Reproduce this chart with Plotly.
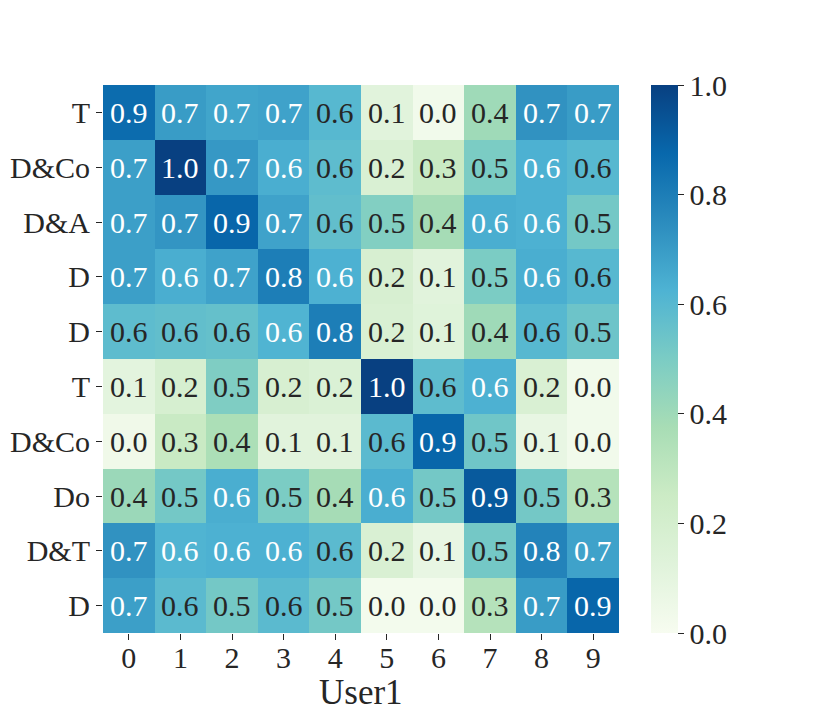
import plotly.graph_objects as go

# rows top -> bottom, columns 0..9
row_labels = ['T', 'D&Co', 'D&A', 'D', 'D', 'T', 'D&Co', 'Do', 'D&T', 'D']
col_labels = ['0', '1', '2', '3', '4', '5', '6', '7', '8', '9']

values = [
    [0.86, 0.70, 0.67, 0.68, 0.60, 0.12, 0.03, 0.40, 0.73, 0.70],
    [0.69, 1.00, 0.71, 0.64, 0.58, 0.17, 0.26, 0.50, 0.63, 0.60],
    [0.69, 0.72, 0.88, 0.68, 0.57, 0.48, 0.38, 0.64, 0.63, 0.52],
    [0.69, 0.64, 0.68, 0.80, 0.63, 0.18, 0.12, 0.50, 0.64, 0.60],
    [0.58, 0.57, 0.56, 0.62, 0.80, 0.17, 0.13, 0.40, 0.60, 0.54],
    [0.11, 0.19, 0.49, 0.18, 0.16, 1.00, 0.58, 0.63, 0.17, 0.03],
    [0.04, 0.26, 0.36, 0.12, 0.12, 0.59, 0.88, 0.53, 0.08, 0.03],
    [0.41, 0.52, 0.64, 0.50, 0.38, 0.64, 0.52, 0.92, 0.52, 0.33],
    [0.73, 0.62, 0.63, 0.63, 0.59, 0.17, 0.08, 0.52, 0.78, 0.68],
    [0.69, 0.59, 0.52, 0.59, 0.52, 0.02, 0.02, 0.33, 0.70, 0.88],
]

gnbu = ['#f7fcf0', '#e0f3db', '#ccebc5', '#a8ddb5', '#7bccc4',
        '#4eb3d3', '#2b8cbe', '#0868ac', '#084081']
scale = [[i / 8, c] for i, c in enumerate(gnbu)]

FONT = 'Liberation Serif'

fig = go.Figure()
fig.add_trace(go.Heatmap(
    z=values, x=list(range(10)), y=list(range(10)),
    zmin=0, zmax=1, colorscale=scale, xgap=0, ygap=0,
    colorbar=dict(x=1.062, xanchor='left', y=0.5, len=1.0, lenmode='fraction',
                  thickness=27, outlinewidth=0, xpad=0, ypad=0,
                  tickvals=[0, 0.2, 0.4, 0.6, 0.8, 1.0],
                  ticktext=['0.0', '0.2', '0.4', '0.6', '0.8', '1.0'],
                  ticks='outside', ticklen=6, tickcolor='#262626',
                  tickfont=dict(family=FONT, size=30, color='#262626')),
))

# cell labels, light text on the dark cells like seaborn
for i, row in enumerate(values):
    for j, v in enumerate(row):
        fig.add_annotation(x=j, y=i, text=f'{v:.1f}', showarrow=False,
                           font=dict(family=FONT, size=30,
                                     color='white' if v > 0.615 else '#262626'))

fig.add_annotation(x=0.5, y=-0.108, xref='paper', yref='paper', text='User1',
                   showarrow=False, yanchor='middle',
                   font=dict(family=FONT, size=35, color='#262626'))

fig.update_layout(
    width=830, height=712,
    margin=dict(l=103, r=211, t=85, b=79, autoexpand=False),
    paper_bgcolor='white', plot_bgcolor='white',
    font=dict(family=FONT, color='#262626'),
    xaxis=dict(tickvals=list(range(10)), ticktext=col_labels, ticks='outside',
               ticklen=6, tickcolor='#262626', showgrid=False, zeroline=False,
               showline=False, automargin=False, tickfont=dict(size=30),
               ticklabelstandoff=-8),
    yaxis=dict(tickvals=list(range(10)), ticktext=row_labels, ticks='outside',
               ticklen=6, tickcolor='#262626', showgrid=False, zeroline=False,
               showline=False, automargin=False, autorange='reversed',
               tickfont=dict(size=30)),
)

fig.write_html('out.html', config={'displayModeBar': False},
               post_script="document.body.style.margin='0px';")
